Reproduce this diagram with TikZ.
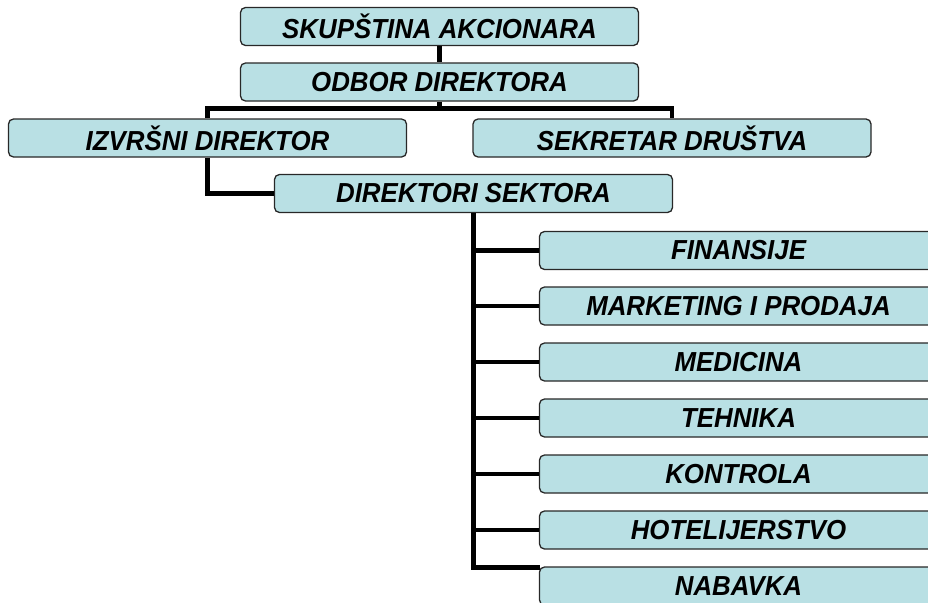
\documentclass[tikz,border=0pt]{standalone}
\usepackage{fontspec}
\setmainfont{Liberation Sans}
\usetikzlibrary{calc}
\definecolor{boxfill}{RGB}{185,224,228}
\definecolor{boxline}{RGB}{40,40,40}
\newcommand{\orgtext}[1]{\scalebox{0.94}[1]{#1}}
\tikzset{
  orgbox/.style={rounded corners=5pt, draw=boxline, line width=1.3pt, fill=boxfill,
    minimum width=398pt, minimum height=38pt, inner sep=0pt, text=black,
    font=\fontsize{27.5}{30}\selectfont\bfseries\itshape},
  link/.style={line width=4.5pt, draw=black, line join=miter}
}
\begin{document}
\begin{tikzpicture}[x=1pt,y=1pt]
\useasboundingbox (0,0) rectangle (928,-602);
\clip (0,0) rectangle (928,-602);
\node[orgbox] (sa) at (439.5,-26.5) {\orgtext{SKUPŠTINA AKCIONARA}};
\node[orgbox] (od) at (439.5,-82) {\orgtext{ODBOR DIREKTORA}};
\node[orgbox] (iz) at (207.5,-138) {\orgtext{IZVRŠNI DIREKTOR}};
\node[orgbox] (se) at (672,-138) {\orgtext{SEKRETAR DRUŠTVA}};
\node[orgbox] (ds) at (473.5,-193.5) {\orgtext{DIREKTORI SEKTORA}};
\node[orgbox] (c1) at (738.5,-250.5) {\orgtext{FINANSIJE}};
\node[orgbox] (c2) at (738.5,-306) {\orgtext{MARKETING I PRODAJA}};
\node[orgbox] (c3) at (738.5,-362) {\orgtext{MEDICINA}};
\node[orgbox] (c4) at (738.5,-418) {\orgtext{TEHNIKA}};
\node[orgbox] (c5) at (738.5,-474) {\orgtext{KONTROLA}};
\node[orgbox] (c6) at (738.5,-530) {\orgtext{HOTELIJERSTVO}};
\node[orgbox] (c7) at (738.5,-586) {\orgtext{NABAVKA}};
\draw[link] (sa.south) -- (od.north);
\draw[link] (od.south) -- ++(0,-7) coordinate (j1);
\draw[link] (iz.north) |- (j1) -| (se.north);
\draw[link] (iz.south) |- (ds.west);
\coordinate (c7in) at ($(c7.north west)+(1,-1)$);
\draw[link] (ds.south) |- (c7in);
\foreach \c in {c1,c2,c3,c4,c5,c6} \draw[link] (ds.south |- \c.west) -- (\c.west);
\end{tikzpicture}
\end{document}
